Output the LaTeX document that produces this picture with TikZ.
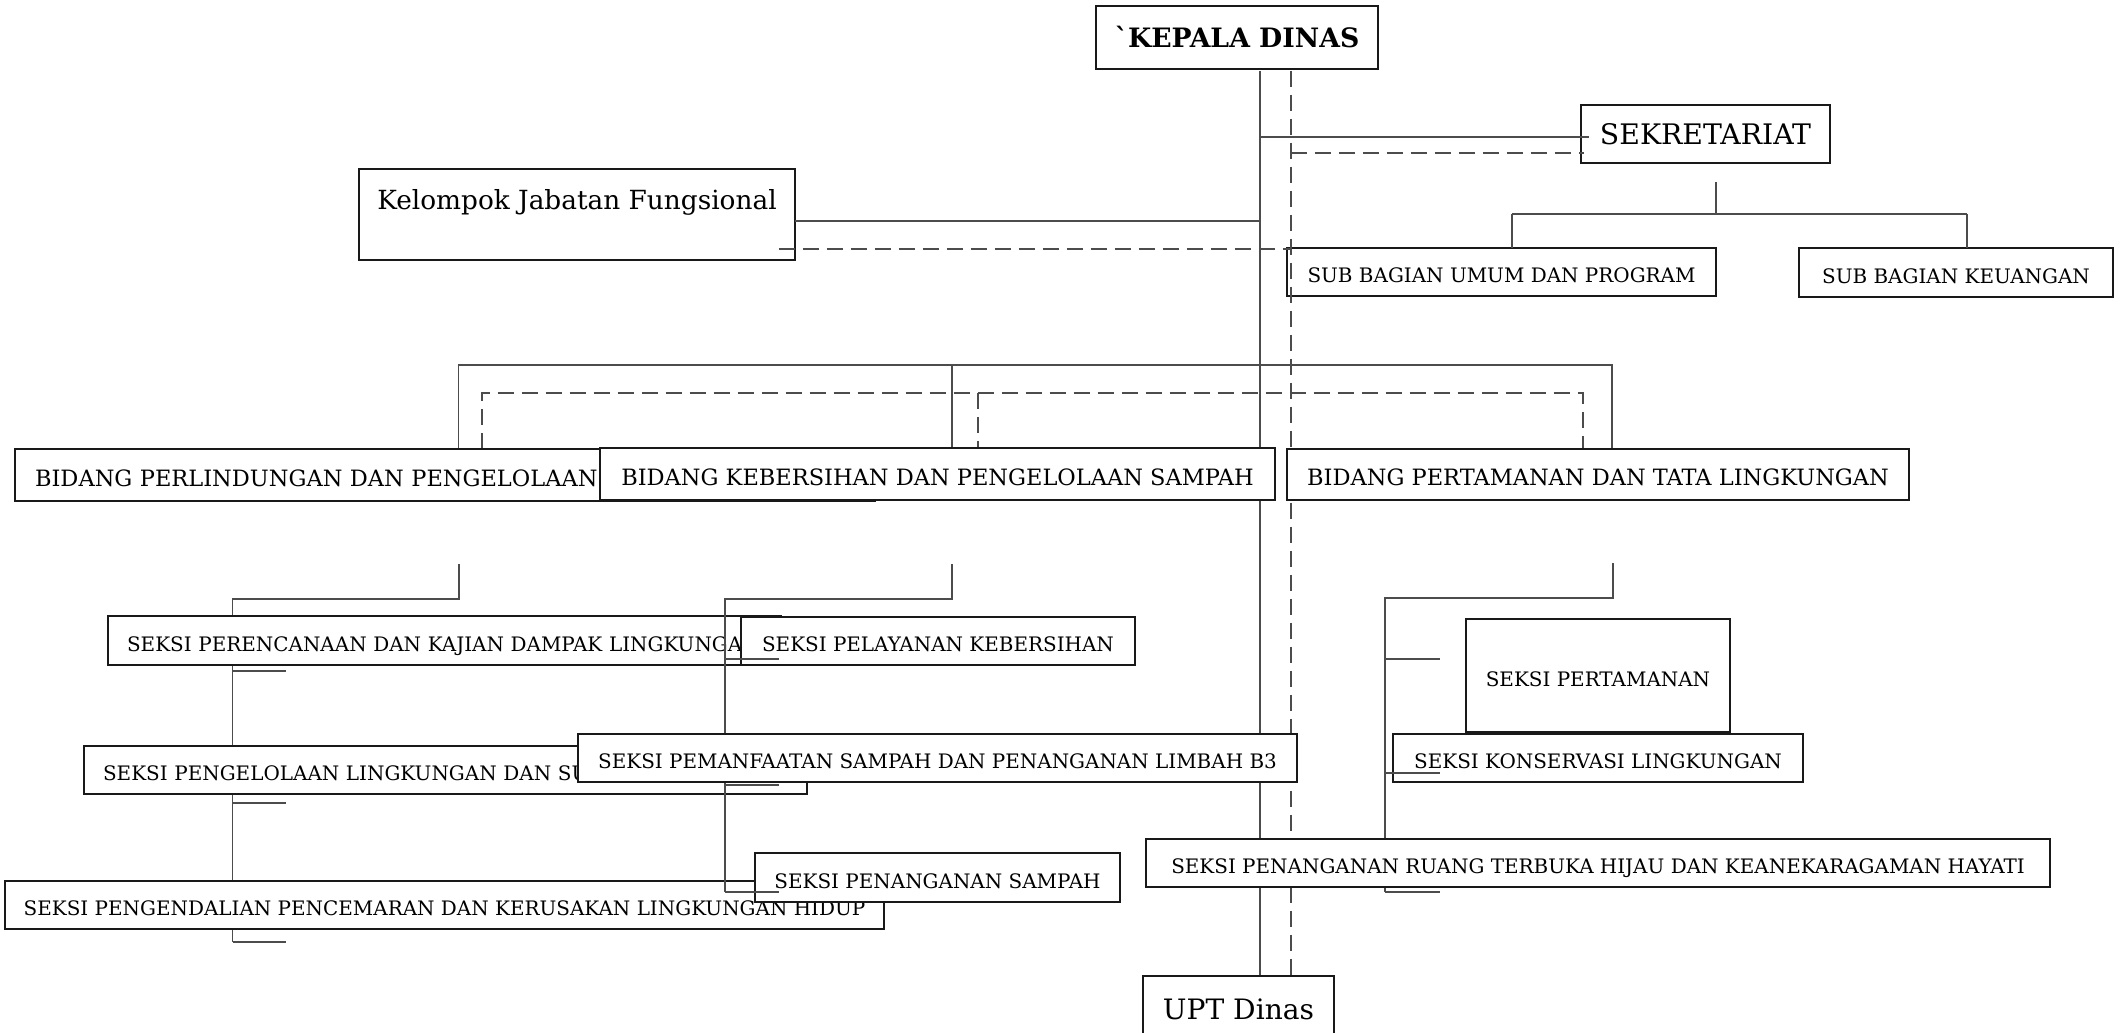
\documentclass[tikz,border=0pt]{standalone}
\usepackage{fontspec}
\setmainfont{DejaVu Serif}
\usepackage{tikz}
\usetikzlibrary{calc, math}

\begin{document}
\begin{tikzpicture}[x=0.02cm, y=-0.02cm,
  orgbox/.style={draw=black!90, line width=0.7pt, fill=white, inner sep=0pt},
  seksi/.style={orgbox, font=\fontsize{11.35}{13.6}\selectfont, text height=0.43cm, text depth=0pt, minimum height=0.96cm},
  bidang/.style={orgbox, font=\fontsize{12.8}{15.4}\selectfont, text height=0.448cm, text depth=0pt, minimum height=1.04cm},
  conn/.style={draw=black!70, line width=0.6pt},
  connd/.style={conn, dash pattern=on 0.32cm off 0.16cm}]

\useasboundingbox (0,0) rectangle (2124,1033);

\tikzmath{
  \xs = 1260; \xd = 1291;
  \xl = 232.5; \xm = 725; \xr = 1385;
}

% pimpinan
\node[orgbox, font=\bfseries\fontsize{15.2}{18}\selectfont, minimum width=5.64cm, minimum height=1.26cm] (kepala) at (1237,37.5) {\textasciigrave KEPALA DINAS};
\node[orgbox, font=\fontsize{16.1}{19}\selectfont, minimum width=4.98cm, minimum height=1.16cm] (sekre) at (1705.5,134) {SEKRETARIAT};
\node[orgbox, font=\fontsize{15}{17.6}\selectfont, align=center, minimum width=8.72cm, minimum height=1.82cm] (kjf) at (577,214.5) {Kelompok Jabatan Fungsional\\ \mbox{}};
\node[seksi, fill=none, minimum width=8.58cm] (subum) at (1501.5,272) {SUB BAGIAN UMUM DAN PROGRAM};
\node[seksi, minimum width=6.28cm, minimum height=0.98cm] (subkeu) at (1956,272.5) {SUB BAGIAN KEUANGAN};
\node[orgbox, font=\fontsize{16}{19}\selectfont, minimum width=3.82cm, minimum height=1.32cm] (upt) at (1238.5,1009) {UPT Dinas};

\coordinate (ks) at (\xs,71);
\coordinate (kd) at (\xd,71);
\draw[conn] (ks) -- (ks |- upt.north);
\draw[connd] (kd) -- (kd |- upt.north);

\draw[conn] (\xs,137) -- (1589,137);
\draw[connd] (\xd,153) -- (1584,153);
\draw[conn] (795,221) -- (\xs,221);
\draw[connd] (779,249) -- (\xd,249);

\coordinate (sb) at (1716,182);
\draw[conn] (sb) -- (1716,214) (1512,214) -- (1967,214);
\draw[conn] (1512,214) -- (1512,248);
\draw[conn] (1967,214) -- (1967,248);

% bidang
\draw[conn] (458.5,449) |- (1612,365) -- (1612,449);
\draw[conn] (952,365) -- (952,448);
\draw[connd] (482,449) |- (1583,393) -- (1583,449);
\draw[connd] (978,393) -- (978,448);

\draw[conn] (459,564) |- (\xl,599) -- (\xl,942);
\foreach \ty in {671,803,942}
  \draw[conn] (\xl,\ty) -- (286,\ty);

\node[bidang, text width=16.4cm, inner xsep=0.4cm, align=left] (bperl) at (445,475) {\mbox{BIDANG PERLINDUNGAN DAN PENGELOLAAN}};
\node[bidang, minimum width=13.5cm] (bkeb) at (937.5,474) {BIDANG KEBERSIHAN DAN PENGELOLAAN SAMPAH};
\node[bidang, minimum width=12.44cm, minimum height=1.02cm] (bpert) at (1598,474.5) {BIDANG PERTAMANAN DAN TATA LINGKUNGAN};

% seksi
\node[seksi, text width=12.7cm, inner xsep=0.38cm, align=left, minimum height=0.98cm] (sperenc) at (444.5,640.5) {\mbox{SEKSI PERENCANAAN DAN KAJIAN DAMPAK LINGKUNGAN}};
\node[seksi, text width=13.7cm, inner xsep=0.38cm, align=left] (spengel) at (445.5,770) {\mbox{SEKSI PENGELOLAAN LINGKUNGAN DAN SU}};
\node[seksi, minimum width=17.58cm] (spengend) at (444.5,905) {SEKSI PENGENDALIAN PENCEMARAN DAN KERUSAKAN LINGKUNGAN HIDUP};
\node[seksi, minimum width=7.88cm] (spelay) at (938,641) {SEKSI PELAYANAN KEBERSIHAN};
\node[seksi, minimum width=7.3cm, minimum height=0.98cm] (spensamp) at (937.5,877.5) {SEKSI PENANGANAN SAMPAH};

\draw[conn] (952,564) |- (\xm,599) -- (\xm,892);
\foreach \ty in {659,785,892}
  \draw[conn] (\xm,\ty) -- (779,\ty);

\node[seksi, minimum width=14.38cm] (spemanf) at (937.5,758) {SEKSI PEMANFAATAN SAMPAH DAN PENANGANAN LIMBAH B3};

\node[seksi, minimum width=5.28cm, minimum height=2.26cm] (spertam) at (1598,675.5) {SEKSI PERTAMANAN};
\node[seksi, minimum width=8.2cm] (skons) at (1598,758) {SEKSI KONSERVASI LINGKUNGAN};

\draw[conn] (1613,563) |- (\xr,598) -- (\xr,892);
\foreach \ty in {659,773,892}
  \draw[conn] (\xr,\ty) -- (1440,\ty);

\node[seksi, minimum width=18.08cm] (srth) at (1598,863) {SEKSI PENANGANAN RUANG TERBUKA HIJAU DAN KEANEKARAGAMAN HAYATI};

\end{tikzpicture}
\end{document}
